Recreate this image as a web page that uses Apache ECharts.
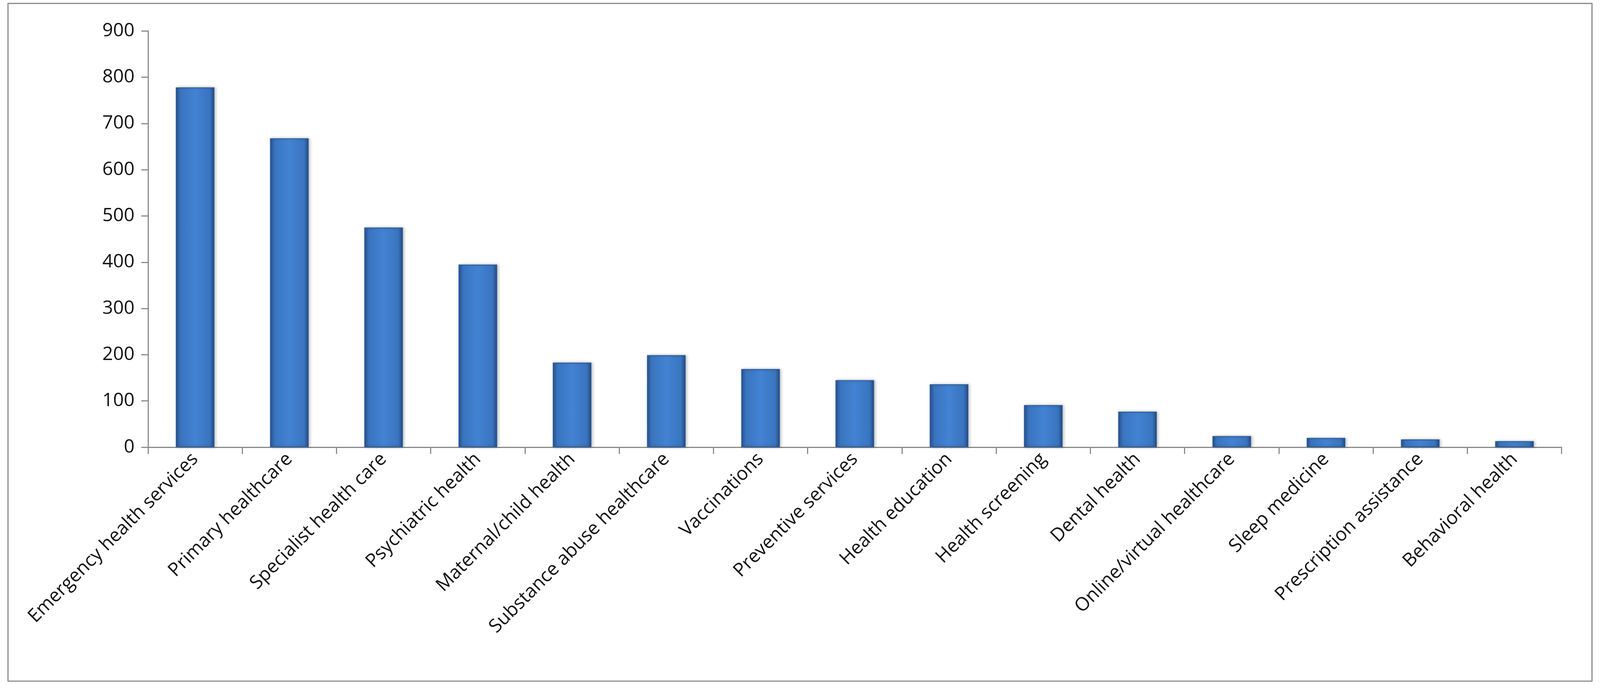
<!DOCTYPE html>
<html>
<head>
<meta charset="utf-8">
<script src="https://cdn.jsdelivr.net/npm/echarts@6/dist/echarts.min.js"></script>
<style>
  html, body { margin: 0; padding: 0; background: #fff; overflow: hidden; }
  #chart { width: 100vw; height: 100vh; }
</style>
</head>
<body>
<div id="chart"></div>
<script>
const categories = [
  'Emergency health services', 'Primary healthcare', 'Specialist health care',
  'Psychiatric health', 'Maternal/child health', 'Substance abuse healthcare',
  'Vaccinations', 'Preventive services', 'Health education', 'Health screening',
  'Dental health', 'Online/virtual healthcare', 'Sleep medicine',
  'Prescription assistance', 'Behavioral health'
];
const values = [778, 668, 475, 395, 183, 199, 169, 145, 136, 91, 77, 24, 20, 17, 13];

const chart = echarts.init(document.getElementById('chart'));
const W = chart.getWidth(), H = chart.getHeight();
const s = W / 4270;
const barColor = new echarts.graphic.LinearGradient(0, 0, 1, 0, [
  {offset: 0, color: '#2a5590'},
  {offset: 0.12, color: '#3a74bf'},
  {offset: 0.5, color: '#4283d3'},
  {offset: 0.88, color: '#3a74bf'},
  {offset: 1, color: '#234a80'}
]);

chart.setOption({
  animation: false,
  graphic: [{
    type: 'rect',
    shape: {x: W * 0.005, y: H * 0.005, width: W * 0.99, height: H * 0.985},
    style: {fill: 'none', stroke: '#888', lineWidth: 3 * s}
  }],
  grid: {left: '9.25%', right: '2.4%', top: '4.5%', bottom: '35%'},
  xAxis: {
    type: 'category',
    data: categories,
    axisLine: {lineStyle: {color: '#888', width: 3 * s}},
    axisTick: {show: true, length: 18 * s, lineStyle: {color: '#888', width: 3 * s}},
    axisLabel: {
      interval: 0, rotate: 45, color: '#111', fontSize: 50 * s,
      fontFamily: 'Open Sans', margin: 24 * s
    }
  },
  yAxis: {
    type: 'value', min: 0, max: 900, interval: 100,
    axisLine: {show: true, lineStyle: {color: '#888', width: 3 * s}},
    axisTick: {show: true, length: 18 * s, lineStyle: {color: '#888', width: 3 * s}},
    splitLine: {show: false},
    axisLabel: {color: '#111', fontSize: 50 * s, fontFamily: 'Open Sans', margin: 36 * s}
  },
  series: [{
    type: 'bar',
    data: values,
    barWidth: '41%',
    itemStyle: {
      color: barColor,
      borderColor: '#2a5a9a',
      borderWidth: 2 * s,
      shadowColor: 'rgba(0,0,0,0.25)',
      shadowBlur: 8 * s,
      shadowOffsetX: 3 * s
    }
  }]
});
</script>
</body>
</html>
